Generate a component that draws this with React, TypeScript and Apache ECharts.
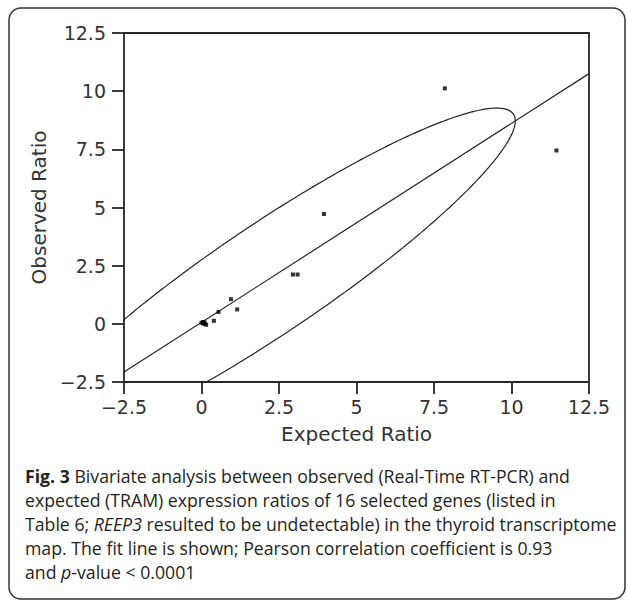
import React, { useEffect, useRef } from 'react';
import * as echarts from 'echarts';

// Expected (TRAM) vs observed (Real-Time RT-PCR) expression ratios, 15 detectable genes
const expectedRatio = [7.85, 11.45, 3.95, 2.95, 3.1, 0.95, 1.15, 0.55, 0.4, 0.0, 0.05, 0.1, 0.15, 0.1, 0.05];
const observedRatio = [10.12, 7.45, 4.72, 2.12, 2.12, 1.06, 0.62, 0.51, 0.13, 0.05, 0.08, 0.0, -0.04, 0.06, 0.02];

const axisMin = -2.5;
const axisMax = 12.5;
const axisStep = 2.5;

const xAxisTitle = 'Expected Ratio';
const yAxisTitle = 'Observed Ratio';

const captionLines = [
  '{b|Fig. 3} Bivariate analysis between observed (Real-Time RT-PCR) and',
  'expected (TRAM) expression ratios of 16 selected genes (listed in',
  'Table 6; {i|REEP3} resulted to be undetectable) in the thyroid transcriptome',
  'map. The fit line is shown; Pearson correlation coefficient is 0.93',
  'and {i|p}-value < 0.0001',
];

// 95% bivariate normal density ellipse (chi-square, 2 df)
const CHI2_95_2DF = 5.991;

function stats(xs: number[], ys: number[]) {
  const n = xs.length;
  const mx = xs.reduce((a, b) => a + b, 0) / n;
  const my = ys.reduce((a, b) => a + b, 0) / n;
  let sxx = 0, syy = 0, sxy = 0;
  for (let i = 0; i < n; i++) {
    sxx += (xs[i] - mx) ** 2;
    syy += (ys[i] - my) ** 2;
    sxy += (xs[i] - mx) * (ys[i] - my);
  }
  sxx /= n; syy /= n; sxy /= n;
  return { mx, my, sxx, syy, sxy };
}

function buildFit() {
  const { mx, my, sxx, syy, sxy } = stats(expectedRatio, observedRatio);
  const slope = sxy / sxx;
  const intercept = my - slope * mx;
  const fitLine = [axisMin, axisMax].map((x) => [x, intercept + slope * x]);
  const sx = Math.sqrt(sxx);
  const sy = Math.sqrt(syy);
  const r = sxy / (sx * sy);
  const k = Math.sqrt(CHI2_95_2DF);
  const q = Math.sqrt(1 - r * r);
  const ellipse: number[][] = [];
  const steps = 360;
  for (let i = 0; i <= steps; i++) {
    const t = (i / steps) * Math.PI * 2;
    ellipse.push([mx + k * sx * Math.cos(t), my + k * sy * (r * Math.cos(t) + q * Math.sin(t))]);
  }
  return { fitLine, ellipse };
}

export default function App() {
  const ref = useRef<HTMLDivElement>(null);

  useEffect(() => {
    if (!ref.current) return;
    const chart = echarts.init(ref.current, undefined, { renderer: 'svg' });
    const { fitLine, ellipse } = buildFit();
    const labelFmt = (v: number) => String(v).replace('-', '\u2212');
    const axisColor = '#262626';
    const textColor = '#333';
    const tickFont = 'DejaVu Sans';
    const axisWidth = 1.8;
    const tickLen = 12;
    const capFont = 'Open Sans';
    const capSize = 17.7;

    const axisCommon = {
      type: 'value',
      min: axisMin,
      max: axisMax,
      interval: axisStep,
      nameLocation: 'middle',
      nameTextStyle: { fontFamily: tickFont, fontSize: 20, color: textColor },
      axisLine: { show: true, onZero: false, lineStyle: { color: axisColor, width: axisWidth } },
      axisTick: { show: true, inside: false, length: tickLen, lineStyle: { color: axisColor, width: axisWidth } },
      splitLine: { show: false },
    };

    chart.setOption({
      animation: false,
      backgroundColor: '#fff',
      grid: { left: 124, right: 38, top: 33, bottom: 221 },
      xAxis: [
        {
          ...axisCommon,
          name: xAxisTitle,
          nameGap: 42,
          axisLabel: { margin: 15, fontFamily: tickFont, fontSize: 19, color: textColor, formatter: labelFmt },
        },
        {
          // top frame line
          ...axisCommon,
          position: 'top',
          axisTick: { show: false },
          axisLabel: { show: false },
        },
      ],
      yAxis: [
        {
          ...axisCommon,
          name: yAxisTitle,
          nameGap: 61,
          axisLabel: { margin: 18, fontFamily: tickFont, fontSize: 19, color: textColor, formatter: labelFmt },
        },
        {
          // right frame line
          ...axisCommon,
          position: 'right',
          axisTick: { show: false },
          axisLabel: { show: false },
        },
      ],
      series: [
        {
          type: 'line',
          data: ellipse,
          showSymbol: false,
          symbol: 'none',
          clip: true,
          silent: true,
          lineStyle: { color: '#222', width: 1.2 },
          z: 2,
        },
        {
          type: 'line',
          data: fitLine,
          showSymbol: false,
          symbol: 'none',
          clip: true,
          silent: true,
          lineStyle: { color: '#222', width: 1.2 },
          z: 2,
        },
        {
          type: 'scatter',
          data: expectedRatio.map((x, i) => [x, observedRatio[i]]),
          symbol: 'rect',
          symbolSize: 4,
          silent: true,
          itemStyle: { color: '#000' },
          z: 3,
        },
      ],
      graphic: [
        {
          type: 'rect',
          shape: { x: 9, y: 8, width: 616, height: 591, r: 12 },
          style: { fill: 'none', stroke: '#333', lineWidth: 1.5 },
          silent: true,
        },
        ...captionLines.map((line, i) => ({
          type: 'text',
          left: 25,
          top: 467 + i * 24,
          silent: true,
          style: {
            text: line,
            fontFamily: capFont,
            fontSize: capSize,
            fill: '#231f20',
            rich: {
              b: { fontWeight: 'bold', fontFamily: capFont, fontSize: capSize, fill: '#231f20' },
              i: { fontStyle: 'italic', fontFamily: capFont, fontSize: capSize, fill: '#231f20' },
            },
          },
        })),
      ],
    });

    return () => chart.dispose();
  }, []);

  return (
    <div
      ref={ref}
      style={{ position: 'fixed', left: 0, top: 0, width: 627, height: 603 }}
    />
  );
}
